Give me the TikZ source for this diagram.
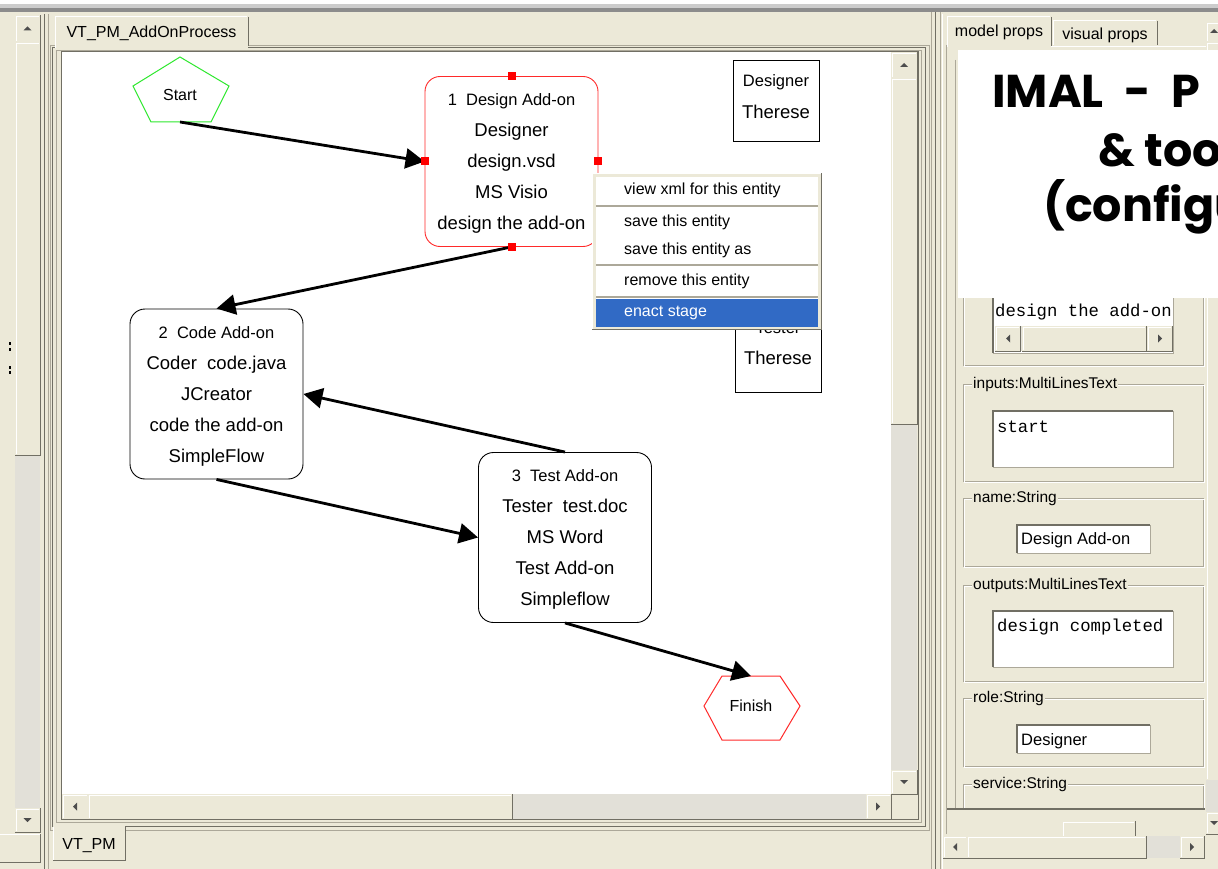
\documentclass[tikz,border=0pt]{standalone}
\usepackage{fontspec}
\setmainfont{Liberation Sans}
\setmonofont{Liberation Mono}
\newfontfamily\slidefont{Poppins}
\usepackage{tikz}
\usetikzlibrary{arrows.meta}

\definecolor{panel}{HTML}{ECE9D8}
\definecolor{etch}{HTML}{ACA899}
\definecolor{darkedge}{HTML}{716F64}
\definecolor{track}{HTML}{E2E0D8}
\definecolor{glyph}{HTML}{4D4D4D}
\definecolor{selblue}{HTML}{316AC5}
\definecolor{startgreen}{HTML}{2EE82E}
\definecolor{stagered}{HTML}{FF2A2A}

\newcommand{\pxfont}[1]{\fontsize{#1}{#1}\selectfont}
\newcommand{\stagehead}[1]{{\fontsize{16.5}{31}\selectfont #1}}

% raised button: x1 y1 x2 y2
\newcommand{\guibutton}[4]{%
  \fill[panel] (#1,#2) rectangle (#3,#4);
  \draw[white] (#1+1,#4-1) |- (#3-1,#2+1);
  \draw[darkedge] (#1,#4) -| (#3,#2);}
% sunken white field
\newcommand{\guifield}[4]{%
  \fill[white] (#1,#2) rectangle (#3,#4);
  \draw[darkedge, line width=1.5pt] (#1,#4) |- (#3,#2);
  \draw[etch] (#1,#4) -| (#3,#2);}
% etched group with its title
\newcommand{\propgroup}[6]{%
  \draw[etch] (#2,#3) rectangle (#4,#5);
  \draw[white] (#2+1,#3+1) rectangle (#4+1,#5+1);
  \node[grouptitle] (#1) at (#2+9,#3) {#6};}
% scroll glyphs
\newcommand{\glyphup}[2]{\fill[glyph] (#1-4,#2+2) -- (#1+4,#2+2) -- (#1,#2-2) -- cycle;}
\newcommand{\glyphdown}[2]{\fill[glyph] (#1-4,#2-2) -- (#1+4,#2-2) -- (#1,#2+2) -- cycle;}
\newcommand{\glyphleft}[2]{\fill[glyph] (#1+2,#2-4) -- (#1+2,#2+4) -- (#1-2,#2) -- cycle;}
\newcommand{\glyphright}[2]{\fill[glyph] (#1-2,#2-4) -- (#1-2,#2+4) -- (#1+2,#2) -- cycle;}

\begin{document}
\begin{tikzpicture}[x=1pt, y=-1pt,
    stage/.style={draw, rounded corners=15pt, line width=0.9pt, minimum width=173pt,
      minimum height=170pt, inner sep=0pt, font=\fontsize{18.5}{31}\selectfont},
    rolebox/.style={draw, line width=1pt, minimum width=86pt, minimum height=81pt},
    rolesmall/.style={inner sep=0pt, font=\pxfont{16.5}},
    rolename/.style={inner sep=0pt, font=\pxfont{18.5}},
    canvastext/.style={inner sep=0pt, font=\pxfont{16}},
    startline/.style={draw=startgreen, line width=1pt},
    stopline/.style={draw=stagered, line width=1pt},
    flow/.style={line width=2.8pt, -{Triangle[length=19pt,width=20pt]}},
    menuitem/.style={anchor=west, inner sep=0pt, font=\pxfont{16}},
    tabtext/.style={inner sep=0pt, font=\pxfont{16}},
    grouptitle/.style={anchor=west, fill=panel, inner xsep=1pt, inner ysep=0pt, font=\pxfont{15.5}},
    fieldtext/.style={anchor=west, inner sep=0pt, font=\pxfont{16.5}},
    monotext/.style={anchor=west, inner sep=0pt, font=\ttfamily\pxfont{17.3}},
    slidetext/.style={anchor=base west, inner sep=0pt, font=\slidefont\bfseries\fontsize{46}{46}\selectfont}]
  \useasboundingbox (0,0) rectangle (1218,869);
  \fill[panel] (0,0) rectangle (1218,869);

  % Window edge
  \fill[white] (0,0) rectangle (1218,4);
  \fill[black!20] (0,4) rectangle (1218,8);
  \fill[black!45] (0,8) rectangle (1218,12);

  % Left scroll bar
  \fill[track] (15,15) rectangle (40,832);
  \guibutton{15}{15}{40}{42}
  \guibutton{15}{42}{40}{455}
  \guibutton{15}{808}{40}{832}
  \glyphup{27.5}{28.5}
  \glyphdown{27.5}{820}
  \fill (9,342) rectangle (11,345);
  \fill (9,348) rectangle (11,351);
  \fill (9,366) rectangle (11,369);
  \fill (9,371) rectangle (11,374);
  \draw[white] (0,834) -- (40,834);
  \draw[darkedge] (40,834) -- (40,862) -- (0,862);
  \draw[darkedge] (44,14) -- (44,869);
  \draw[etch] (48,14) -- (48,869);

  % Main panel
  \draw[etch] (50,45) rectangle (929,830);
  \draw[darkedge] (52,47) rectangle (925,826);
  \draw[etch] (56,50) rectangle (921,822);
  \fill[panel] (55,16) rectangle (248,48);
  \draw[white] (55,48) |- (247,16);
  \draw[darkedge] (248,17) -- (248,46);
  \node[tabtext] (tabprocess) at (151.5,33) {VT\_PM\_AddOnProcess};
  \fill[white] (62,52) rectangle (891,794);
  \draw[darkedge] (61,51) rectangle (918,819);
  % scroll bars of the canvas
  \fill[track] (891,52) rectangle (917,794);
  \guibutton{891}{52}{917}{78}
  \guibutton{891}{78}{917}{424}
  \guibutton{891}{770}{917}{794}
  \glyphup{904}{65}
  \glyphdown{904}{782}
  \fill[track] (62,794) rectangle (891,819);
  \guibutton{62}{794}{88}{819}
  \guibutton{88}{794}{512}{819}
  \guibutton{866}{794}{891}{819}
  \glyphleft{75}{806.5}
  \glyphright{878}{806.5}
  \fill[panel] (892,795) rectangle (917,819);
  % bottom tab
  \fill[panel] (53,825) rectangle (125,860);
  \draw[white] (53,827) -- (53,860);
  \draw[darkedge] (53,860) -| (125,827);
  \node[tabtext] (tabpm) at (89,846) {VT\_PM};

  % Process model
  \draw[startline] (180,57) -- (229,86) -- (211,122) -- (151,122) -- (133,86) -- cycle;
  \node[canvastext] (start) at (180,95) {Start};
  \coordinate (startout) at (180,122);
  \node[stage, draw=stagered] (design) at (511.5,161.5) {\begin{tabular}{@{}c@{}}
    \stagehead{1\ \ Design Add-on}\\Designer\\design.vsd\\MS Visio\\design the add-on\end{tabular}};
  \node[stage] (code) at (216.5,394) {\begin{tabular}{@{}c@{}}
    \stagehead{2\ \ Code Add-on}\\Coder\ \ code.java\\JCreator\\code the add-on\\SimpleFlow\end{tabular}};
  \node[stage] (test) at (565,537.5) {\begin{tabular}{@{}c@{}}
    \stagehead{3\ \ Test Add-on}\\Tester\ \ test.doc\\MS Word\\Test Add-on\\Simpleflow\end{tabular}};
  \draw[stopline] (704,706) -- (722,676) -- (780,676) -- (800,706) -- (780,740) -- (722,740) -- cycle;
  \node[canvastext] (finish) at (751,706) {Finish};
  \coordinate (finishin) at (751,676);

  % Roles
  \node[rolebox] (designerbox) at (776,101.5) {};
  \node[rolesmall] (designerrole) at (776,82) {Designer};
  \node[rolename] (designername) at (776,112) {Therese};
  \node[rolebox] (testerbox) at (778,351.5) {};
  \node[rolesmall] (testerrole) at (778,328) {Tester};
  \node[rolename] (testername) at (778,358) {Therese};

  % Flows
  \draw[flow] (startout) -- (design.west);
  \draw[flow] (design.south) -- (code.north);
  \draw[flow] (code.south) -- (test.west);
  \draw[flow] (test.north) -- (code.east);
  \draw[flow] (test.south) -- (finishin);
  \foreach \a in {north,west,east,south} \fill[red] (design.\a) +(-4,-4) rectangle +(4,4);

  % Popup menu
  \fill[panel] (592,173) rectangle (822,330);
  \draw[white] (592.5,330) |- (822,173.5);
  \draw[darkedge, line width=1.5pt] (592,329.5) -| (821.5,173);
  \fill[white] (596,177) rectangle (818,326);
  \foreach \y in {206,265,297} \draw[etch, line width=2pt] (596,\y) -- (818,\y);
  \fill[selblue] (596,299) rectangle (818,327);
  \node[menuitem] (menuxml) at (624,190) {view xml for this entity};
  \node[menuitem] (menusave) at (624,222) {save this entity};
  \node[menuitem] (menusaveas) at (624,250) {save this entity as};
  \node[menuitem] (menuremove) at (624,281) {remove this entity};
  \node[menuitem, text=white] (menuenact) at (624,313) {enact stage};

  % Right panel
  \draw[etch] (931,12) -- (931,869);
  \draw[darkedge] (935,12) -- (935,869);
  \draw[etch] (940,12) -- (940,869);
  \draw[white] (942,14) -- (942,869);
  \draw[etch] (946,45) -- (946,834);
  \draw[etch] (955,60) -- (955,812);
  \draw[white] (1051,46) -- (1218,46);
  \fill[panel] (947,16) rectangle (1051,47);
  \draw[white] (947,47) |- (1050,16);
  \draw[darkedge] (1051,17) -- (1051,46);
  \node[tabtext] (tabmodel) at (999,32) {model props};
  \fill[panel] (1053,20) rectangle (1157,45);
  \draw[white] (1053,45) |- (1156,20);
  \draw[darkedge] (1157,21) -- (1157,45);
  \node[tabtext] (tabvisual) at (1105,35) {visual props};
  \guibutton{1206}{22}{1222}{42}
  \glyphup{1214}{31}
  \guibutton{1206}{42}{1222}{780}
  \fill[track] (1206,780) rectangle (1218,812);
  \guibutton{1206}{812}{1222}{834}
  \glyphdown{1214}{823}

  % Property groups
  \draw[etch] (963,240) rectangle (1203,365);
  \draw[white] (964,241) rectangle (1204,366);
  \guifield{993}{240}{1173}{353}
  \node[monotext] (descvalue) at (995,312) {design the add-on};
  \fill[track] (995,326) rectangle (1172,351);
  \guibutton{995}{326}{1020}{351}
  \guibutton{1022}{326}{1146}{351}
  \guibutton{1147}{326}{1172}{351}
  \glyphleft{1008}{338.5}
  \glyphright{1160}{338.5}
  \propgroup{inputsgroup}{963}{384}{1203}{481}{inputs:MultiLinesText}
  \guifield{993}{411}{1173}{467}
  \node[monotext] (inputsvalue) at (997,427) {start};
  \propgroup{namegroup}{963}{498}{1203}{566}{name:String}
  \guifield{1017}{525}{1150}{553}
  \node[fieldtext] (namevalue) at (1021,540) {Design Add-on};
  \propgroup{outputsgroup}{963}{585}{1203}{681}{outputs:MultiLinesText}
  \guifield{993}{611}{1173}{667}
  \node[monotext] (outputsvalue) at (997,627) {design completed};
  \propgroup{rolegroup}{963}{698}{1203}{766}{role:String}
  \guifield{1017}{725}{1150}{753}
  \node[fieldtext] (rolevalue) at (1021,741) {Designer};
  \propgroup{servicegroup}{963}{784}{1203}{830}{service:String}
  \fill[panel] (947,809) rectangle (1205,836);
  \draw[darkedge, line width=1.5pt] (947,809) -- (1205,809);
  \guibutton{1062}{821}{1135}{850}
  \fill[track] (943,836) rectangle (1204,858);
  \guibutton{943}{836}{967}{858}
  \guibutton{967}{836}{1146}{858}
  \guibutton{1180}{836}{1204}{858}
  \glyphleft{955}{847}
  \glyphright{1192}{847}

  % Slide overlay
  \fill[white] (958,50) rectangle (1218,298);
  \node[slidetext] (slideone) at (992,108) {IMAL\hspace{0.45em}-\hspace{0.45em}P};
  \node[slidetext] (slidetwo) at (1098,167) {\& too};
  \node[slidetext] (slidethree) at (1043,222) {(configu};
\end{tikzpicture}
\end{document}
